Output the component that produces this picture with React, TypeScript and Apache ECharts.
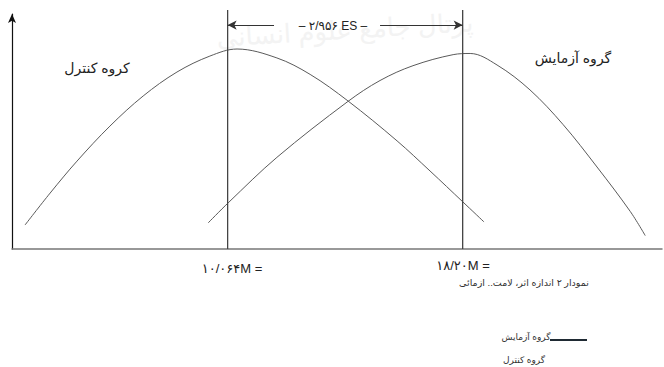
import React, { useEffect, useRef } from "react";
import * as echarts from "echarts";

// Control group curve (score, relative height)
const controlX = [3.05, 3.92, 4.85, 5.99, 7.14, 8.31, 9.45, 10.39, 11.77, 12.92, 14.23, 15.93, 17.07, 18.21, 18.94];
const controlY = [0.102, 0.238, 0.374, 0.523, 0.651, 0.753, 0.821, 0.851, 0.813, 0.743, 0.63, 0.46, 0.332, 0.2, 0.115];
// Experimental group curve
const expX = [9.39, 10.08, 11.77, 14.23, 15.34, 16.48, 17.87, 18.46, 19.39, 20.53, 21.68, 22.85, 24.0, 24.52];
const expY = [0.111, 0.196, 0.39, 0.628, 0.717, 0.78, 0.827, 0.832, 0.783, 0.677, 0.529, 0.349, 0.16, 0.057];
// Means
const means = [10.064, 18.2];
const meanLabels = ["۱۰/۰۶۴M =", "۱۸/۲۰M ="];
const esLabel = "– ۲/۹۵۶ ES –";
const groupLabels = ["کروه کنترل", "گروه آزمایش"];
const legendLabels = ["گروه آزمایش", "گروه کنترل"];
const caption = "نمودار ۲ اندازه اثر، لامت.. ازمائی";
const watermark = "پرتال جامع علوم انسانی";
const meanTop = 1.017;
const esLevel = 0.953;
const esGap = [11.67, 15.34];

const FONT = "'Liberation Sans', 'DejaVu Sans', sans-serif";

export default function App() {
  const ref = useRef<HTMLDivElement>(null);
  useEffect(() => {
    if (!ref.current) return;
    const chart = echarts.init(ref.current, null, { renderer: "svg" });
    const curveStyle = { color: "#5a5a5a", width: 1 };
    const txt = (x: number, y: number, text: string, size: number, fill = "#222") => ({
      type: "text",
      x,
      y,
      style: { text, fontFamily: FONT, fontSize: size, fill, textAlign: "center", textVerticalAlign: "middle" },
    });
    chart.setOption({
      animation: false,
      backgroundColor: "#fff",
      grid: { left: 12, right: 2, top: 14, bottom: 118 },
      xAxis: {
        type: "value",
        min: 2.6,
        max: 25.1,
        axisLine: { show: true, lineStyle: { color: "#777", width: 1.5 } },
        axisTick: { show: false },
        axisLabel: { show: false },
        splitLine: { show: false },
      },
      yAxis: {
        type: "value",
        min: 0,
        max: 1,
        axisLine: {
          show: true,
          symbol: ["none", "arrow"],
          symbolSize: [6, 9],
          lineStyle: { color: "#111", width: 1.2 },
        },
        axisTick: { show: false },
        axisLabel: { show: false },
        splitLine: { show: false },
      },
      graphic: [
        {
          type: "text",
          x: 345,
          y: 30,
          rotation: 0.06,
          z: -10,
          style: {
            text: watermark,
            fontFamily: FONT,
            fontSize: 26,
            fill: "#f3f3f3",
            textAlign: "center",
            textVerticalAlign: "middle",
          },
        },
        txt(97, 68, groupLabels[0], 14),
        txt(573, 58, groupLabels[1], 14),
        txt(333, 26, esLabel, 12),
        txt(232, 268, meanLabels[0], 13),
        txt(463, 265, meanLabels[1], 13),
        txt(524, 282, caption, 9.5, "#333"),
        txt(526, 337, legendLabels[0], 9, "#333"),
        {
          type: "line",
          shape: { x1: 550, y1: 340, x2: 587, y2: 340 },
          style: { stroke: "#1f2a33", lineWidth: 2 },
        },
        txt(524, 360, legendLabels[1], 9, "#333"),
      ],
      series: [
        {
          name: "control",
          type: "line",
          smooth: 0.35,
          showSymbol: false,
          lineStyle: curveStyle,
          data: controlX.map((x, i) => [x, controlY[i]]),
        },
        {
          name: "experimental",
          type: "line",
          smooth: 0.35,
          showSymbol: false,
          lineStyle: curveStyle,
          data: expX.map((x, i) => [x, expY[i]]),
        },
        ...means.map((m, i) => ({
          name: "mean" + i,
          type: "line",
          showSymbol: false,
          clip: false,
          lineStyle: { color: "#444", width: 1.3 },
          data: [
            [m, 0],
            [m, meanTop],
          ],
          markLine:
            i === 0
              ? {
                  silent: true,
                  symbol: ["none", "arrow"],
                  symbolSize: [7, 9],
                  label: { show: false },
                  lineStyle: { color: "#333", width: 1, type: "solid" },
                  data: [
                    [{ coord: [esGap[0], esLevel] }, { coord: [means[0], esLevel] }],
                    [{ coord: [esGap[1], esLevel] }, { coord: [means[1], esLevel] }],
                  ],
                }
              : undefined,
        })),
      ],
    });
    return () => chart.dispose();
  }, []);
  return <div ref={ref} style={{ width: 664, height: 367, position: "absolute", left: 0, top: 0 }} />;
}
